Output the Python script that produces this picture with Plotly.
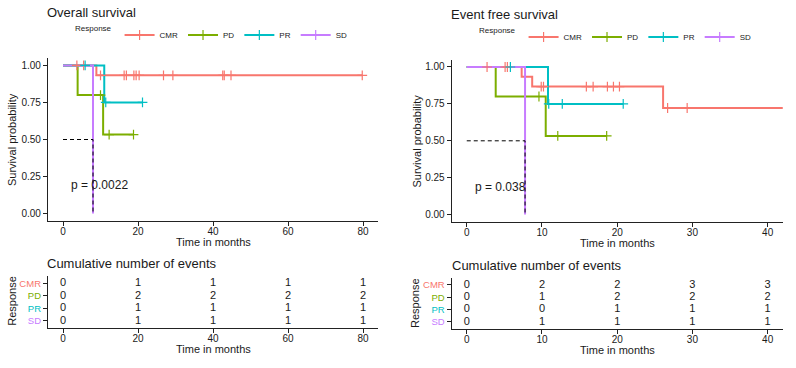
import plotly.graph_objects as go

W, H = 796, 368

groups = ["CMR", "PD", "PR", "SD"]
colors = {"CMR": "#F8766D", "PD": "#7CAE00", "PR": "#00BFC4", "SD": "#C77CFF"}

# ---------------- Overall survival ----------------
os_step_times = {"CMR": [8.9], "PD": [3.9, 10.7], "PR": [11.0], "SD": [8.0]}
os_step_surv = {"CMR": [0.933], "PD": [0.8, 0.533], "PR": [0.75], "SD": [0.0]}
os_censor = {
    "CMR": [3.7, 5.5, 10.0, 16.3, 16.9, 18.9, 19.5, 20.3, 26.8, 29.3, 42.6, 43.0, 44.8, 79.8],
    "PD": [10.0, 12.3, 18.8],
    "PR": [5.9, 11.4, 21.2],
    "SD": [],
}
os_pval = "p = 0.0022"
os_table_times = [0, 20, 40, 60, 80]
os_events = {"CMR": [0, 1, 1, 1, 1], "PD": [0, 2, 2, 2, 2], "PR": [0, 1, 1, 1, 1], "SD": [0, 1, 1, 1, 1]}

# ---------------- Event free survival ----------------
efs_step_times = {"CMR": [7.3, 8.7, 26.1], "PD": [3.85, 10.5], "PR": [10.8], "SD": [7.75]}
efs_step_surv = {"CMR": [0.933, 0.867, 0.722], "PD": [0.8, 0.533], "PR": [0.75], "SD": [0.0]}
efs_censor = {
    "CMR": [2.7, 5.1, 5.4, 9.9, 10.2, 15.9, 16.8, 18.7, 19.5, 20.3, 26.7, 29.3, 42.6, 43.0, 44.8, 79.8],
    "PD": [9.6, 12.1, 18.6],
    "PR": [5.8, 10.9, 12.7, 20.8],
    "SD": [],
}
efs_pval = "p = 0.038"
efs_table_times = [0, 10, 20, 30, 40]
efs_events = {"CMR": [0, 2, 2, 3, 3], "PD": [0, 1, 2, 2, 2], "PR": [0, 0, 1, 1, 1], "SD": [0, 1, 1, 1, 1]}

FONT = "Liberation Sans"
TXT = "#1a1a1a"


def px(x):
    return x / W


def py(y):
    return 1 - y / H


def surv_at(t, times, survs):
    s = 1.0
    for tt, ss in zip(times, survs):
        if tt <= t:
            s = ss
    return s


fig = go.Figure()


def add_km(step_times, step_surv, censor, xa, ya, legend_name, pval, pval_x):
    for g in groups:
        t_end = max([0] + step_times[g] + censor[g])
        xs = [0] + step_times[g] + [t_end]
        ys = [1.0] + step_surv[g] + [step_surv[g][-1] if step_surv[g] else 1.0]
        fig.add_trace(go.Scatter(x=xs, y=ys, mode="lines", line=dict(color=colors[g], width=2, shape="hv"),
                                 xaxis=xa, yaxis=ya, showlegend=False, hoverinfo="skip"))
    for g in groups:
        if censor[g]:
            cy = [surv_at(t, step_times[g], step_surv[g]) for t in censor[g]]
            fig.add_trace(go.Scatter(x=censor[g], y=cy, mode="markers",
                                     marker=dict(symbol="cross-thin", size=7, line=dict(color=colors[g], width=1.2)),
                                     xaxis=xa, yaxis=ya, showlegend=False, hoverinfo="skip"))
    for g in groups:
        med = [t for t, s in zip(step_times[g], step_surv[g]) if s <= 0.5]
        if med:
            m = med[0]
            fig.add_trace(go.Scatter(x=[0, m, m], y=[0.5, 0.5, 0], mode="lines",
                                     line=dict(color="black", width=1, dash="4px,3px"),
                                     xaxis=xa, yaxis=ya, showlegend=False, hoverinfo="skip"))
    for g in groups:
        fig.add_trace(go.Scatter(x=[None], y=[None], mode="lines+markers", name=g,
                                 line=dict(color=colors[g], width=2),
                                 marker=dict(symbol="cross-thin", size=7, line=dict(color=colors[g], width=1.2)),
                                 xaxis=xa, yaxis=ya, legend=legend_name, showlegend=True))
    fig.add_annotation(x=pval_x, y=0.19, xref=xa, yref=ya, text=pval, showarrow=False,
                       xanchor="left", yanchor="middle", font=dict(size=12, color=TXT, family=FONT))


def add_table(times, events, xa, ya):
    for i, g in enumerate(groups):
        fig.add_trace(go.Scatter(x=times, y=[4 - i] * len(times), mode="text",
                                 text=[str(v) for v in events[g]],
                                 textfont=dict(size=11, color=TXT, family=FONT),
                                 xaxis=xa, yaxis=ya, showlegend=False, hoverinfo="skip"))


add_km(os_step_times, os_step_surv, os_censor, "x", "y", "legend", os_pval, 1.5)
add_km(efs_step_times, efs_step_surv, efs_censor, "x2", "y2", "legend2", efs_pval, 0.8)
add_table(os_table_times, os_events, "x3", "y3")
add_table(efs_table_times, efs_events, "x4", "y4")

axis_common = dict(showline=True, linecolor="#222", linewidth=1.2, ticks="outside", ticklen=4,
                   tickwidth=1, tickcolor="#222", showgrid=False, zeroline=False,
                   tickfont=dict(size=10, color=TXT, family=FONT), fixedrange=True)
xaxis_extra = dict(ticklabelstandoff=-3)

surv_ticks = [0, 0.25, 0.5, 0.75, 1.0]
surv_ticktext = ["%.2f" % v for v in surv_ticks]
row_ticktext = ["<span style='color:%s'>%s</span>" % (colors[g], g) for g in groups]
row_axis = {**axis_common, "tickfont": dict(size=9.5, family=FONT)}

legend_common = dict(orientation="h", yanchor="middle", xanchor="center",
                     font=dict(size=8, color=TXT, family=FONT),
                     title=dict(text="Response", font=dict(size=8), side="left"),
                     bgcolor="rgba(0,0,0,0)", itemwidth=30, tracegroupgap=0)

fig.update_layout(
    width=W, height=H, margin=dict(l=0, r=0, t=0, b=0),
    paper_bgcolor="white", plot_bgcolor="white",
    font=dict(family=FONT, color=TXT),
    xaxis=dict(domain=[px(48), px(378)], range=[-4, 84], tickvals=os_table_times, anchor="y",
               **axis_common, **xaxis_extra),
    yaxis=dict(domain=[py(221), py(58)], range=[-0.05, 1.05], tickvals=surv_ticks, ticktext=surv_ticktext,
               anchor="x", **axis_common),
    xaxis2=dict(domain=[px(451.7), px(782.7)], range=[-2, 42], tickvals=efs_table_times, anchor="y2",
                **axis_common, **xaxis_extra),
    yaxis2=dict(domain=[py(222), py(59.6)], range=[-0.05, 1.05], tickvals=surv_ticks, ticktext=surv_ticktext,
                anchor="x2", **axis_common),
    xaxis3=dict(domain=[px(48), px(378)], range=[-4, 84], tickvals=os_table_times, anchor="y3",
                **axis_common, **xaxis_extra),
    yaxis3=dict(domain=[py(328.3), py(276)], range=[0.4, 4.6], tickvals=[4, 3, 2, 1], ticktext=row_ticktext,
                anchor="x3", **row_axis),
    xaxis4=dict(domain=[px(451.7), px(782.7)], range=[-2, 42], tickvals=efs_table_times, anchor="y4",
                **axis_common, **xaxis_extra),
    yaxis4=dict(domain=[py(329.3), py(277.5)], range=[0.4, 4.6], tickvals=[4, 3, 2, 1], ticktext=row_ticktext,
                anchor="x4", **row_axis),
    legend=dict(x=px(213), y=py(35), **legend_common),
    legend2=dict(x=px(617), y=py(37), **legend_common),
)


def ann(text, x, y, size, xanchor="left", angle=0):
    fig.add_annotation(x=px(x), y=py(y), xref="paper", yref="paper", text=text, showarrow=False,
                       xanchor=xanchor, yanchor="middle", textangle=angle,
                       font=dict(size=size, color=TXT, family=FONT))


ann("Overall survival", 45, 12, 13)
ann("Event free survival", 449.5, 14, 13)
ann("Cumulative number of events", 45, 263, 13)
ann("Cumulative number of events", 449.5, 265, 13)
ann("Survival probability", 12, 140, 11, "center", -90)
ann("Survival probability", 416.5, 141, 11, "center", -90)
ann("Time in months", 213, 242, 11, "center")
ann("Time in months", 617, 243, 11, "center")
ann("Response", 11.7, 301, 11, "center", -90)
ann("Response", 415, 303, 11, "center", -90)
ann("Time in months", 213, 349, 11, "center")
ann("Time in months", 617, 350, 11, "center")

fig.write_html("out.html", config={"displayModeBar": False},
               post_script="document.body.style.margin='0';")
